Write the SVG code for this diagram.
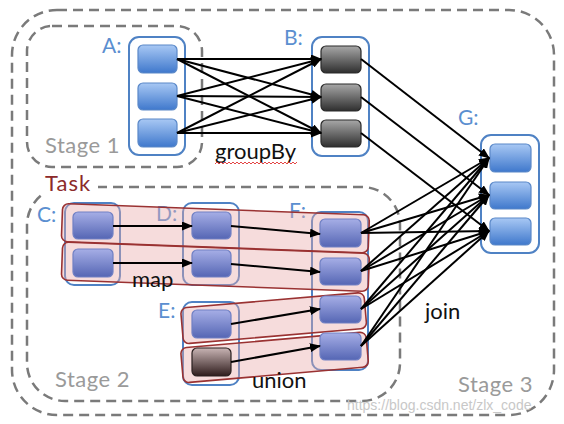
<svg xmlns="http://www.w3.org/2000/svg" width="564" height="424" viewBox="0 0 564 424">
<style>
.stage{fill:none;stroke:#7a7a7a;stroke-width:2.5;stroke-dasharray:10 6}
.cont{fill:#fff;stroke:#4f82c4;stroke-width:2}
.nblue{fill:url(#gBlue);stroke:#5a88c8;stroke-width:1.2}
.ngray{fill:url(#gGray);stroke:#2a2a2a;stroke-width:1.2}
.npur{fill:url(#gPur);stroke:#7080c4;stroke-width:1.2}
.nbrown{fill:url(#gBrown);stroke:#2a2020;stroke-width:1.2}
.band{fill:#e8a8a8;fill-opacity:0.4;stroke:#9a3232;stroke-width:1.6}
.e{stroke:#000;stroke-width:2;fill:none;marker-end:url(#ah)}
.lbl{font-family:Lato,"Open Sans",sans-serif;font-size:21px;fill:#5b8fd0}
.stg{font-family:Lato,"Open Sans",sans-serif;font-size:22px;fill:#9a9a9a;letter-spacing:0.5px}
.op{font-family:Lato,"Open Sans",sans-serif;font-size:22px;fill:#111}
</style>
<defs>
<linearGradient id="gBlue" x1="0" y1="0" x2="0" y2="1"><stop offset="0" stop-color="#a8c8f4"/><stop offset="1" stop-color="#3f78cc"/></linearGradient>
<linearGradient id="gGray" x1="0" y1="0" x2="0" y2="1"><stop offset="0" stop-color="#a8a8a8"/><stop offset="1" stop-color="#2e2e2e"/></linearGradient>
<linearGradient id="gPur" x1="0" y1="0" x2="0" y2="1"><stop offset="0" stop-color="#a6aee6"/><stop offset="1" stop-color="#5566b4"/></linearGradient>
<linearGradient id="gBrown" x1="0" y1="0" x2="0" y2="1"><stop offset="0" stop-color="#c8b4b4"/><stop offset="1" stop-color="#2e1c1c"/></linearGradient>
<marker id="ah" markerUnits="userSpaceOnUse" markerWidth="11" markerHeight="9" refX="10" refY="4.5" orient="auto"><path d="M0,0 L11,4.5 L0,9 z" fill="#000"/></marker>
</defs>

<g id="stages">
<rect class="stage" x="12" y="10" width="542" height="405" rx="45"/>
<rect class="stage" x="27" y="26" width="175" height="141" rx="25"/>
<rect class="stage" x="27" y="187" width="373" height="214" rx="38"/>
<rect x="42" y="171" width="56" height="24" fill="#fff"/>
<text x="45" y="191" style="font-family:Lato,'Open Sans',sans-serif;font-size:22px;fill:#8c2a2a;letter-spacing:1px">Task</text>
<text class="stg" x="45" y="153">Stage 1</text>
<text class="stg" x="55" y="387">Stage 2</text>
<text class="stg" x="458" y="392">Stage 3</text>
</g>

<g id="A">
<text class="lbl" x="102" y="53">A:</text>
<rect class="cont" x="129" y="37" width="56" height="118" rx="10"/>
<rect class="nblue" x="138" y="45" width="39" height="28" rx="5"/>
<rect class="nblue" x="138" y="83" width="39" height="27" rx="5"/>
<rect class="nblue" x="138" y="119" width="39" height="28" rx="5"/>
</g>
<g id="B">
<text class="lbl" x="284" y="45">B:</text>
<rect class="cont" x="312" y="37" width="57" height="119" rx="10"/>
<rect class="ngray" x="321" y="46" width="40" height="27" rx="5"/>
<rect class="ngray" x="321" y="84" width="40" height="27" rx="5"/>
<rect class="ngray" x="321" y="120" width="40" height="27" rx="5"/>
</g>
<g id="G">
<text class="lbl" x="458" y="125">G:</text>
<rect class="cont" x="481" y="135" width="58" height="118" rx="10"/>
<rect class="nblue" x="490" y="144" width="41" height="28" rx="5"/>
<rect class="nblue" x="490" y="182" width="41" height="27" rx="5"/>
<rect class="nblue" x="490" y="218" width="41" height="27" rx="5"/>
</g>

<g id="containers2">
<text class="lbl" x="37" y="222">C:</text>
<rect class="cont" x="65" y="203" width="55" height="82" rx="9"/>
<text class="lbl" x="156" y="221">D:</text>
<rect class="cont" x="183" y="203" width="56" height="82" rx="9"/>
<text class="lbl" x="158" y="318">E:</text>
<rect class="cont" x="183" y="302" width="56" height="83" rx="9"/>
<text class="lbl" x="289" y="218">F:</text>
<rect class="cont" x="312" y="212" width="56" height="158" rx="9"/>
</g>

<g id="tasks">
<rect class="band" transform="translate(62,222.5) rotate(2.15)" x="0" y="-19" width="307" height="38" rx="6"/>
<rect class="band" transform="translate(62,261) rotate(2.15)" x="0" y="-19" width="307" height="38" rx="6"/>
<rect class="band" transform="translate(182,326) rotate(-4.9)" x="0" y="-18" width="184" height="36" rx="6"/>
<rect class="band" transform="translate(182,366) rotate(-5)" x="0" y="-18" width="186" height="35" rx="6"/>
</g>

<g id="C">
<rect class="npur" x="73" y="212" width="40" height="27" rx="5"/>
<rect class="npur" x="73" y="249" width="40" height="28" rx="5"/>
</g>
<g id="D">
<rect class="npur" x="192" y="212" width="39" height="27" rx="5"/>
<rect class="npur" x="192" y="250" width="39" height="27" rx="5"/>
</g>
<g id="E">
<rect class="npur" x="192" y="310" width="39" height="28" rx="5"/>
<rect class="nbrown" x="192" y="348" width="39" height="28" rx="5"/>
</g>
<g id="F">
<rect class="npur" x="320" y="219" width="41" height="28" rx="5"/>
<rect class="npur" x="320" y="258" width="41" height="27" rx="5"/>
<rect class="npur" x="320" y="296" width="41" height="27" rx="5"/>
<rect class="npur" x="320" y="333" width="41" height="27" rx="5"/>
</g>

<g id="connectors">
<path class="e" d="M177,59 L321,59"/>
<path class="e" d="M177,59 L321,97"/>
<path class="e" d="M177,59 L321,133"/>
<path class="e" d="M177,96 L321,59"/>
<path class="e" d="M177,96 L321,97"/>
<path class="e" d="M177,96 L321,133"/>
<path class="e" d="M177,133 L321,59"/>
<path class="e" d="M177,133 L321,97"/>
<path class="e" d="M177,133 L321,133"/>
<path class="e" d="M361,59 L489,158"/>
<path class="e" d="M361,97 L489,195"/>
<path class="e" d="M361,133 L489,231"/>
<path class="e" d="M113,226 L192,226"/>
<path class="e" d="M113,263 L192,263"/>
<path class="e" d="M231,226 L320,234"/>
<path class="e" d="M231,264 L320,272"/>
<path class="e" d="M231,324 L320,309"/>
<path class="e" d="M231,362 L320,346"/>
<path class="e" d="M361,233 L489,158"/>
<path class="e" d="M361,233 L489,195"/>
<path class="e" d="M361,233 L489,231"/>
<path class="e" d="M361,271 L489,158"/>
<path class="e" d="M361,271 L489,195"/>
<path class="e" d="M361,271 L489,231"/>
<path class="e" d="M361,309 L489,158"/>
<path class="e" d="M361,309 L489,195"/>
<path class="e" d="M361,309 L489,231"/>
<path class="e" d="M361,346 L489,158"/>
<path class="e" d="M361,346 L489,195"/>
<path class="e" d="M361,346 L489,231"/>
</g>

<g id="labels">
<text class="op" x="215" y="159">groupBy</text>
<path d="M215,164 l2,-2 l2,2 l2,-2 l2,2 l2,-2 l2,2 l2,-2 l2,2 l2,-2 l2,2 l2,-2 l2,2 l2,-2 l2,2 l2,-2 l2,2 l2,-2 l2,2 l2,-2 l2,2 l2,-2 l2,2 l2,-2 l2,2 l2,-2 l2,2 l2,-2 l2,2 l2,-2 l2,2 l2,-2 l2,2 l2,-2 l2,2 l2,-2 l2,2 l2,-2 l2,2 l2,-2 l2,2 l2,-2" fill="none" stroke="#e03030" stroke-width="0.9"/>
<text class="op" x="132" y="287">map</text>
<text class="op" x="252" y="388">union</text>
<text class="op" x="425" y="319">join</text>
<text x="347" y="410" style="font-family:'Liberation Sans',Arial,sans-serif;font-size:14px;fill:#c8c8c8">https://blog.csdn.net/zlx_code</text>
</g>
</svg>
